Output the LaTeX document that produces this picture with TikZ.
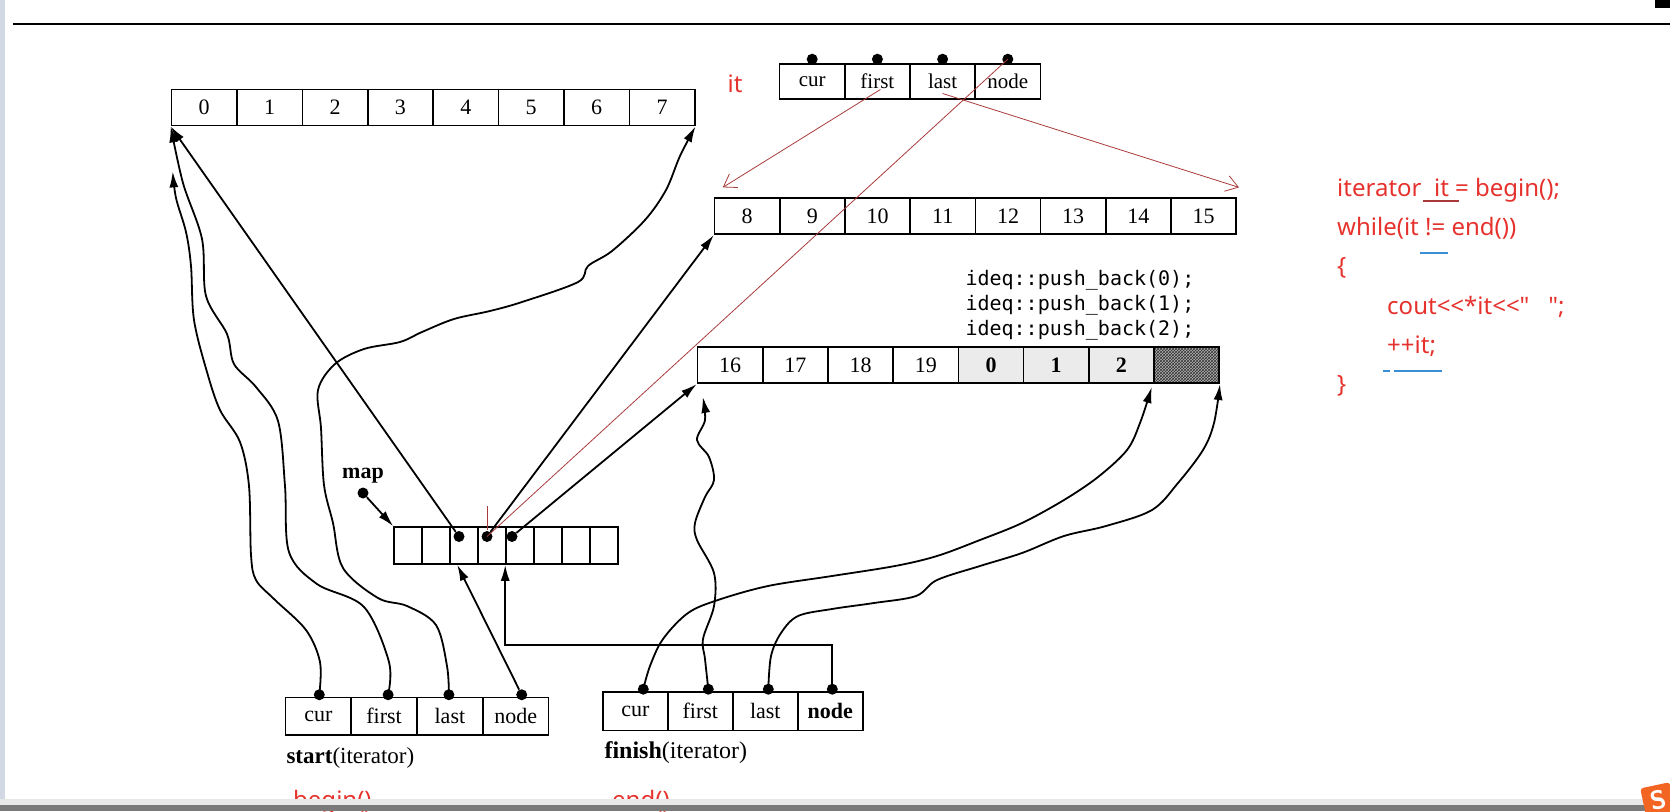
\documentclass[tikz,border=0pt]{standalone}
\usepackage{fontspec}
\setmainfont{Liberation Serif}
\setmonofont{DejaVu Sans Mono}
\newfontfamily\codefont{Noto Sans}
\usepackage{tikz}
\usetikzlibrary{arrows.meta,calc,positioning,patterns}
\definecolor{codered}{HTML}{E5322D}
\definecolor{penred}{HTML}{A83A3A}
\definecolor{penblue}{HTML}{3A8FD5}
\definecolor{framegray}{HTML}{D3D9E4}
\definecolor{sogou}{HTML}{F26522}

\begin{document}
\begin{tikzpicture}[x=1pt, y=-1pt,
  cell/.style={draw, line width=1.6pt, minimum height=36pt, inner sep=0pt, font=\fontsize{22}{22}\selectfont},
  dot/.style={circle, fill, inner sep=0pt, minimum size=11pt},
  ptr/.style={line width=1.8pt, -{Latex[length=16pt,width=9pt]}},
  pen/.style={penred, line width=0.8pt},
  uline/.style={line width=1.2pt},
  code/.style={anchor=base west, inner sep=0pt, text=codered, font=\codefont\fontsize{24}{24}\selectfont}]

\useasboundingbox (0,0) rectangle (1670,811);

% screen frame
\fill[framegray] (0,0) rectangle (5,811);
\draw[line width=2pt] (13,23.5) -- (1670,23.5);
\fill (1655,0) rectangle (1670,8);

% buffers
\foreach \i in {0,...,7}
  \node[cell, minimum width=65.4pt] (a\i) at (204.2+65.4*\i, 107.6) {\i};
\foreach \v [count=\i from 0] in {8,...,15}
  \node[cell, minimum width=65.2pt] (b\i) at (747.2+65.2*\i, 216.2) {\v};
\foreach \v [count=\i from 0] in {16,17,18,19}
  \node[cell, minimum width=65.2pt] (c\i) at (730.2+65.2*\i, 365.2) {\v};
\foreach \v [count=\i from 4] in {0,1,2}
  \node[cell, minimum width=65.2pt, fill=black!8, font=\fontsize{22}{22}\selectfont\bfseries] (c\i) at (730.2+65.2*\i, 365.2) {\v};
\node[cell, minimum width=65.2pt, preaction={fill=black!30}, pattern=crosshatch, pattern color=black!80] (c7) at (730.2+65.2*7, 365.2) {};

\node[anchor=west, align=left, font=\ttfamily\fontsize{20}{25}\selectfont] (pb) at (962,305)
  {ideq::push\_back(0);\\ideq::push\_back(1);\\ideq::push\_back(2);};

% map
\foreach \i in {0,...,7}
  \node[cell, minimum width=28pt, minimum height=37pt] (m\i) at (408+28*\i, 545.5) {};
\foreach \i/\dx in {2/-5,3/-5,4/-8}
  \node[dot] (md\i) at ($(m\i.center)+(\dx,-9)$) {};
\node[font=\fontsize{22}{22}\selectfont\bfseries] (maplbl) at (363,476) {map};
\node[dot] (mapdot) at (363,493) {};
\draw[ptr] (mapdot) -- (m0.north west);

% iterator it
\foreach \t [count=\i from 0] in {cur,first,last,node}
  \node[cell, minimum width=65.2pt, minimum height=35pt, font=\fontsize{21}{21}\selectfont] (it\i) at (812.2+65.2*\i, 81.5) {\t};
\foreach \i in {0,...,3}
  \node[dot] (id\i) at ($(it\i.north)+(0,-4)$) {};
\node[text=codered, font=\codefont\fontsize{24}{24}\selectfont] (itlbl) at (735,84) {it};

% start / finish
\foreach \t [count=\i from 0] in {cur,first,last,node}
  \node[cell, minimum width=65.8pt, minimum height=37.5pt] (s\i) at (318.3+65.8*\i, 716.3) {\t};
\foreach \i/\dx in {0/1,1/4,2/-1,3/6}
  \node[dot] (sd\i) at ($(s\i.north)+(\dx,-2)$) {};
\foreach \t [count=\i from 0] in {cur,first,last,\textbf{node}}
  \node[cell, minimum width=65pt, minimum height=38.6pt] (f\i) at (635.3+65*\i, 711.3) {\t};
\foreach \i/\dx in {0/8,1/8,2/3,3/2}
  \node[dot] (fd\i) at ($(f\i.north)+(\dx,-2)$) {};
\node[anchor=west, font=\fontsize{23}{23}\selectfont] (slbl) at (283,758) {\textbf{start}(iterator)};
\node[anchor=west, font=\fontsize{24}{24}\selectfont] (flbl) at (601,753) {\textbf{finish}(iterator)};

% map -> buffers
\draw[ptr] (md2) -- (a0.south west);
\draw[ptr] (md3) -- (b0.south west);
\draw[ptr] (md4) -- (c0.south west);
\draw[ptr] (sd3) -- ($(m2.south west)+(8,0)$);
\draw[ptr] (fd3.center) -- ++(0,-44) -| (m4.south west);

% start pointers
\coordinate (aLow) at ($(a0.south west)+(2,45)$);
\draw[ptr] plot[smooth, tension=0.55] coordinates {(sd0.center) (320,662) (306,630) (274,599) (256,580) (251,555) (249,486) (240,442) (220,410) (207,372) (194,320) (191,266) (186,232) (176,198) (aLow)};
\draw[ptr] plot[smooth, tension=0.55] coordinates {(sd1.center) (389,662) (364,607) (317,584) (289,552) (285,486) (278,421) (256,387) (234,364) (227,334) (206,296) (202,239) (183,183) (a0.south west)};
\draw[ptr] plot[smooth, tension=0.55] coordinates {(sd2.center) (447,666) (436,625) (407,606) (378,598) (343,568) (333,523) (324,485) (321,428) (318,390) (335,364) (364,349) (400,342) (422,332) (454,319) (490,311) (522,302) (578,282) (588,266) (612,251) (645,220) (666,190) (680,156) (a7.south east)};

% finish pointers
\coordinate (cTwo) at ($(c6.south east)+(-3,3)$);
\coordinate (cFirst) at ($(c0.south west)+(6,13)$);
\draw[ptr] plot[smooth, tension=0.55] coordinates {(fd0.center) (650,666) (663,639) (688,613) (718,600) (768,586) (832,576) (895,566) (937,556) (980,540) (1022,523) (1064,500) (1098,477) (1127,450) (1140,423) (cTwo)};
\draw[ptr] plot[smooth, tension=0.55] coordinates {(fd1.center) (705,659) (703,639) (714,606) (714,573) (697,540) (695,523) (705,497) (714,480) (709,457) (697,440) (705,420) (cFirst)};
\draw[ptr] plot[smooth, tension=0.55] coordinates {(fd2.center) (771,656) (781,633) (798,616) (832,609) (874,603) (916,596) (937,580) (980,566) (1022,553) (1064,536) (1106,526) (1152,510) (1178,483) (1203,450) (1214,423) (c7.south east)};

% pen marks
\draw[pen, -{Straight Barb[length=12pt,width=16pt]}] ($(it1.center)+(3,8)$) -- ($(b0.north west)+(9,-10)$);
\draw[pen, -{Straight Barb[length=12pt,width=16pt]}] ($(it2.center)+(0,12)$) -- ($(b7.north east)+(2,-10)$);
\draw[pen] (id3.center) -- (md3.center);
\draw[pen] ($(md3.center)+(0,-7)$) -- ++(0,-24);

% code
\node[code] (l1) at (1337,196) {iterator\ \ it = begin();};
\node[code] (l2) at (1337,235) {while(it != end())};
\node[code] (l3) at (1337,274) {\{};
\node[code] (l4) at (1387,314) {cout<{}<*it<{}<"\ \ \ ";};
\node[code] (l5) at (1387,353) {++it;};
\node[code] (l6) at (1337,392) {\}};
\draw[uline, penred] (1423,201) -- (1459,201);
\draw[uline, penblue] (1420,253) -- (1448,253);
\draw[uline, penblue] (1383,371) -- (1390,371) (1394,371) -- (1442,371);

% bottom bar
\node[code] (beg) at (293,808) {begin()};
\node[code] (fin) at (612,808) {end()};
\fill[black!9] (0,799) rectangle (1670,805);
\fill[black!52] (0,805) rectangle (1670,811);
\node[fill=sogou, rotate=12, rounded corners=3pt, minimum size=30pt, inner sep=0pt, text=white, font=\sffamily\bfseries\fontsize{26}{26}\selectfont] (sogoulogo) at (1658,800) {S};

\end{tikzpicture}
\end{document}
